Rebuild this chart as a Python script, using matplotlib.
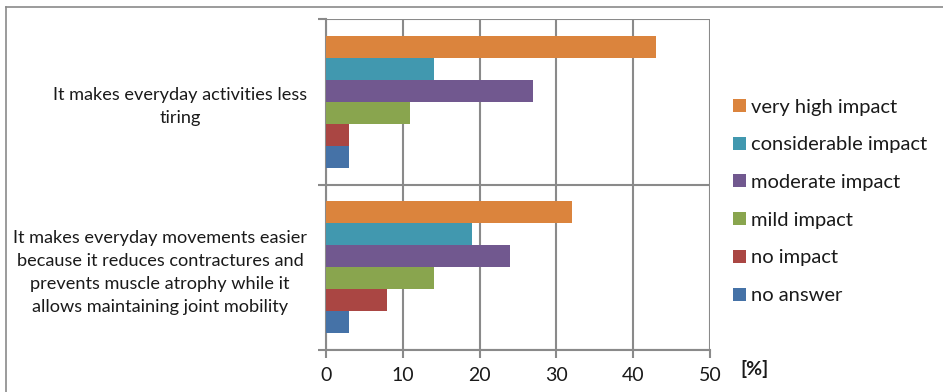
import matplotlib
matplotlib.use("Agg")
import matplotlib.pyplot as plt
from matplotlib.lines import Line2D
import numpy as np

plt.rcParams['font.family'] = ['Lato', 'DejaVu Sans']

# Categories (bottom to top on the value axis)
categories = [
    "It makes everyday movements easier\nbecause it reduces contractures and\nprevents muscle atrophy while it\nallows maintaining joint mobility",
    "It makes everyday activities less\ntiring",
]

# Series, drawn bottom to top inside each group
series_names = ["no answer", "no impact", "mild impact", "moderate impact",
                "considerable impact", "very high impact"]
no_answer = [3, 3]
no_impact = [8, 3]
mild_impact = [14, 11]
moderate_impact = [24, 27]
considerable_impact = [19, 14]
very_high_impact = [32, 43]
series_values = [no_answer, no_impact, mild_impact, moderate_impact,
                 considerable_impact, very_high_impact]
series_colors = ["#4572A7", "#AA4643", "#89A54E", "#71588F", "#4198AF", "#DB843D"]

x_ticks = [0, 10, 20, 30, 40, 50]

W, H = 943, 392
fig = plt.figure(figsize=(W / 100, H / 100), dpi=100)
ax = fig.add_axes([326 / W, 1 - 350 / H, (710 - 326) / W, (350 - 19) / H])

grid_color = "#8a8a8a"
text_color = "#1a1a1a"
n = len(series_names)
group_h = 0.8
bar_h = group_h / n
ypos = np.arange(len(categories))
handles = []
for i, (name, vals, col) in enumerate(zip(series_names, series_values, series_colors)):
    offs = ypos + (i - (n - 1) / 2) * bar_h
    b = ax.barh(offs, vals, height=bar_h, color=col, edgecolor="none",
                label=name, zorder=3)
    handles.append(b)

ax.set_xlim(0, 50)
ax.set_ylim(-0.5, len(categories) - 0.5)
ax.set_xticks(x_ticks)
ax.set_xticklabels([str(t) for t in x_ticks])

# category boundaries as major ticks / gridlines, labels at centers
ax.set_yticks(np.arange(len(categories) + 1) - 0.5)
ax.set_yticklabels([])
ax.set_yticks(ypos, minor=True)
ax.set_yticklabels(categories, minor=True, ha="right", multialignment="center",
                   fontsize=13.1, color=text_color, linespacing=1.55)
ax.tick_params(axis="y", which="minor", length=0, pad=13.5)
ax.tick_params(axis="y", which="major", length=6, width=1.5, color=grid_color)
ax.tick_params(axis="x", which="major", length=6, width=1.5, color=grid_color,
               labelsize=14, labelcolor=text_color, pad=6.5)

ax.grid(True, axis="both", which="major", color=grid_color, lw=1.5, zorder=0)
for s in ["top", "right"]:
    ax.spines[s].set_visible(False)
for s in ["left", "bottom"]:
    ax.spines[s].set_color(grid_color)
    ax.spines[s].set_linewidth(1.5)

fig.text(755 / W, 1 - 369 / H, "[%]", ha="center", va="center",
         fontsize=14, fontweight="bold", color=text_color)

leg = fig.legend(handles=handles[::-1], loc="upper left",
                 bbox_to_anchor=(733 / W, 1 - 98.5 / H), frameon=False,
                 fontsize=14.5, handlelength=0.65, handleheight=0.6,
                 handletextpad=0.25, labelspacing=1.03, borderpad=0,
                 borderaxespad=0)
for t in leg.get_texts():
    t.set_color(text_color)

# outer frame
fig.add_artist(Line2D([5.5 / W, 1], [1 - 6.5 / H, 1 - 6.5 / H],
                      transform=fig.transFigure, color=grid_color, lw=1.2))
fig.add_artist(Line2D([5.5 / W, 5.5 / W], [0, 1 - 6.5 / H],
                      transform=fig.transFigure, color=grid_color, lw=1.2))

fig.savefig("out.png", dpi=100)
